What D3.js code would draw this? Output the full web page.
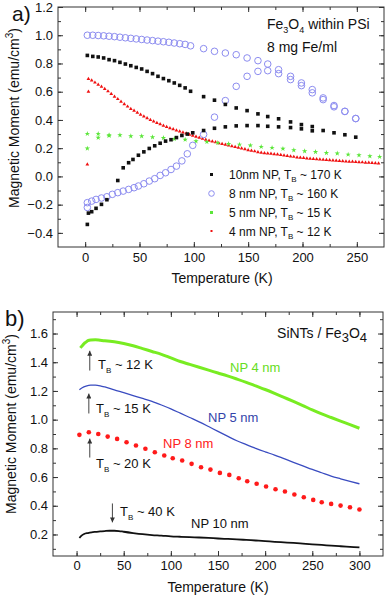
<!DOCTYPE html>
<html>
<head>
<meta charset="utf-8">
<script src="https://cdn.jsdelivr.net/npm/d3@7"></script>
<style>
  body { margin: 0; background: #fff; }
  svg { font-family: "Liberation Sans", Arial, sans-serif; }
  .tick line { stroke: #333; }
  .tick text { font-size: 13px; fill: #111; }
</style>
</head>
<body>
<div id="chart"></div>
<script>
// ---------- panel a: Fe3O4 within PSi ----------
const a10fcT = [2,7,12,17,22,27,32,37,42,47,52,57,62,67,72,77,82,87,92,97,109,119,129,139,149,159,168,178,189,199,209,219,229,239,249]
const a10fcV = [0.857,0.85,0.846,0.839,0.827,0.82,0.808,0.796,0.784,0.772,0.761,0.744,0.728,0.709,0.693,0.678,0.662,0.645,0.627,0.603,0.565,0.54,0.51,0.485,0.466,0.443,0.424,0.408,0.386,0.367,0.353,0.325,0.309,0.295,0.278]
const a10zfcT = [2,3,6,10,15,20,30,35,40,44,49,54,59,64,69,74,79,84,89,94,99,109,119,129,139,149,159,168,178,189,199,209]
const a10zfcV = [-0.34,-0.26,-0.25,-0.226,-0.198,-0.165,-0.029,0.061,0.097,0.12,0.15,0.174,0.198,0.217,0.235,0.25,0.26,0.275,0.29,0.30,0.309,0.325,0.341,0.351,0.358,0.36,0.36,0.355,0.351,0.346,0.337,0.323]

const a8fcT = [2,7,12,17,22,27,32,37,42,47,52,57,62,67,72,77,82,87,92,97,109,119,129,139,149,159,168,178,189,199,209,219,229,239,249]
const a8fcV = [1.0,1.0,0.998,0.996,0.993,0.99,0.986,0.982,0.978,0.974,0.97,0.966,0.962,0.958,0.954,0.95,0.945,0.94,0.935,0.925,0.905,0.886,0.874,0.862,0.839,0.82,0.796,0.756,0.709,0.662,0.615,0.556,0.502,0.461,0.41]
const a8zfcT = [2,2,6,10,15,20,25,30,35,40,45,49,54,59,64,69,74,79,84,89,94,99,109,119,129,139,149,159,168,178,189,199,209,219,229,239,249]
const a8zfcV = [-0.186,-0.22,-0.175,-0.163,-0.153,-0.144,-0.127,-0.115,-0.104,-0.092,-0.08,-0.068,-0.052,-0.033,-0.016,0.007,0.026,0.049,0.073,0.11,0.16,0.22,0.297,0.42,0.537,0.638,0.709,0.744,0.749,0.728,0.686,0.643,0.592,0.544,0.493,0.46,0.41]

const a5fcT = [2,12,22,32,42,52,62,72,82,92,102,112,122,132,142,152,162,172,182,192,202,212,222,232,242,252,262,271]
const a5fcV = [0.302,0.302,0.292,0.292,0.285,0.285,0.278,0.273,0.266,0.261,0.25,0.245,0.238,0.231,0.226,0.219,0.21,0.203,0.196,0.186,0.179,0.174,0.167,0.163,0.155,0.15,0.143,0.139]
const a5zfcT = [2,12,22]
const a5zfcV = [0.198,0.275,0.288]

const a4fcT = [3,6,9,12,15,18,21,24,27,30,33,36,39,42,45,48,51,54,57,60,63,66,69,72,75,78,81,84,87,90,93,96,99,102,105,108,111,114,117,120,123,126,129,132,135,138,141,144,147,150,153,156,159,162,165,168,171,174,177,180,183,186,189,192,195,198,201,204,207,210,213,216,219,222,225,228,231,234,237,240,243,246,249,252,255,258,261,264,267,270]
const a4fcV = [0.69,0.68,0.665,0.65,0.635,0.62,0.603,0.585,0.565,0.548,0.53,0.512,0.495,0.478,0.465,0.452,0.438,0.425,0.413,0.401,0.39,0.379,0.37,0.36,0.351,0.342,0.334,0.326,0.318,0.311,0.304,0.296,0.289,0.281,0.274,0.267,0.26,0.254,0.248,0.242,0.236,0.231,0.225,0.219,0.214,0.209,0.204,0.198,0.193,0.186,0.182,0.178,0.172,0.168,0.165,0.163,0.161,0.158,0.156,0.153,0.149,0.146,0.142,0.139,0.135,0.133,0.131,0.128,0.126,0.124,0.122,0.12,0.118,0.117,0.115,0.113,0.111,0.109,0.108,0.107,0.105,0.104,0.103,0.101,0.1,0.098,0.097,0.095,0.094,0.092]
const a4zfcT = [2,3]
const a4zfcV = [0.085,0.60]

const aXTicks = [0,50,100,150,200,250]
const aYTicks = [-0.4,-0.2,0.0,0.2,0.4,0.6,0.8,1.0,1.2]
const aLegend = ['10nm NP, T|B| ~ 170 K', '8 nm NP, T|B| ~ 160 K', '5 nm NP, T|B| ~ 15 K', '4 nm NP, T|B| ~ 12 K']

// ---------- panel b: SiNTs / Fe3O4 ----------
const b4T = [4,6,8,10,12,15,20,25,30,40,50,60,70,80,90,100,110,120,130,140,150,160,170,180,190,200,210,220,230,240,250,260,270,280,290,300]
const b4V = [1.50,1.515,1.53,1.54,1.55,1.555,1.556,1.553,1.55,1.542,1.53,1.515,1.495,1.475,1.455,1.43,1.405,1.385,1.365,1.345,1.325,1.305,1.283,1.26,1.235,1.21,1.183,1.155,1.127,1.098,1.068,1.04,1.015,0.99,0.965,0.94]
const b5T = [3,6,10,15,20,25,30,40,50,60,70,80,90,100,110,120,130,140,150,160,170,180,190,200,210,220,230,240,250,260,270,280,290,300]
const b5V = [1.208,1.222,1.233,1.24,1.24,1.236,1.228,1.207,1.188,1.168,1.148,1.127,1.102,1.075,1.045,1.015,0.985,0.952,0.918,0.885,0.853,0.826,0.80,0.776,0.753,0.728,0.703,0.678,0.653,0.63,0.607,0.588,0.57,0.553]
const b8T = [3,13,23,33,43,53,63,73,83,93,102,112,122,132,142,152,162,172,181,191,201,211,221,231,241,251,260,270,280,290,300]
const b8V = [0.894,0.912,0.90,0.882,0.866,0.843,0.82,0.797,0.773,0.75,0.731,0.715,0.692,0.668,0.652,0.629,0.615,0.592,0.571,0.553,0.534,0.515,0.499,0.478,0.459,0.441,0.424,0.413,0.401,0.39,0.374]
const b10T = [3,5,8,12,16,20,25,30,35,40,45,50,60,70,80,90,100,110,120,130,140,150,160,170,180,190,200,210,220,230,240,250,260,270,280,290,300]
const b10V = [0.175,0.19,0.203,0.21,0.215,0.218,0.221,0.224,0.226,0.226,0.224,0.219,0.21,0.202,0.196,0.192,0.187,0.184,0.181,0.179,0.176,0.172,0.169,0.166,0.162,0.158,0.154,0.149,0.145,0.141,0.136,0.131,0.127,0.122,0.118,0.114,0.11]

const bXTicks = [0,50,100,150,200,250,300]
const bYTicks = [0.2,0.4,0.6,0.8,1.0,1.2,1.4,1.6]
// blocking temperature arrows: T position, start and end value
const bArrows = [
  {t: 14, from: 1.342, to: 1.48, label: 12},
  {t: 13, from: 1.043, to: 1.182, label: 15},
  {t: 14, from: 0.736, to: 0.868, label: 20},
  {t: 38, from: 0.416, to: 0.284, label: 40}
]

const width = 387, height = 598
const svg = d3.select('#chart').append('svg')
  .attr('width', width)
  .attr('height', height)

const zip = (ts, vs) => ts.map((t, i) => ({t: t, v: vs[i]}))

// frame with inward ticks on all four sides
function drawFrame(x, y, xTicks, yTicks, xStep, yStep, xPad, yPad) {
  const [x0, x1] = x.range()
  const [y0, y1] = y.range()
  const xd = x.domain(), yd = y.domain()
  const xMinor = d3.range(Math.ceil(xd[0] / xStep) * xStep, xd[1] + 1e-6, xStep).filter(v => v > xd[0] && v < xd[1])
  const yMinor = d3.range(Math.ceil(yd[0] / yStep - 1e-6) * yStep, yd[1] + 1e-6, yStep).filter(v => v > yd[0] + 1e-6 && v < yd[1] - 1e-6)
  const g = svg.append('g')

  g.append('g').attr('transform', 'translate(0,' + y0 + ')')
    .call(d3.axisBottom(x).tickValues(xMinor).tickSize(-3).tickFormat(''))
  g.append('g').attr('transform', 'translate(0,' + y0 + ')')
    .call(d3.axisBottom(x).tickValues(xTicks).tickSize(-5).tickPadding(xPad).tickFormat(d3.format('d')))
  g.append('g').attr('transform', 'translate(0,' + y1 + ')')
    .call(d3.axisTop(x).tickValues(xMinor).tickSize(-3).tickFormat(''))
  g.append('g').attr('transform', 'translate(0,' + y1 + ')')
    .call(d3.axisTop(x).tickValues(xTicks).tickSize(-5).tickFormat(''))

  g.append('g').attr('transform', 'translate(' + x0 + ',0)')
    .call(d3.axisLeft(y).tickValues(yMinor).tickSize(-3).tickFormat(''))
  g.append('g').attr('transform', 'translate(' + x0 + ',0)')
    .call(d3.axisLeft(y).tickValues(yTicks).tickSize(-5).tickPadding(yPad).tickFormat(d3.format('.1f')))
  g.append('g').attr('transform', 'translate(' + x1 + ',0)')
    .call(d3.axisRight(y).tickValues(yMinor).tickSize(-3).tickFormat(''))
  g.append('g').attr('transform', 'translate(' + x1 + ',0)')
    .call(d3.axisRight(y).tickValues(yTicks).tickSize(-5).tickFormat(''))

  g.selectAll('.domain').remove()
  g.selectAll('.tick text').attr('font-family', null).attr('font-size', null)
  g.append('rect')
    .attr('x', x0).attr('y', y1)
    .attr('width', x1 - x0).attr('height', y0 - y1)
    .attr('fill', 'none').attr('stroke', '#333').attr('stroke-width', 1)
}

function yTitle(cx, cy) {
  const t = svg.append('text')
    .attr('transform', 'translate(' + cx + ',' + cy + ') rotate(-90)')
    .attr('text-anchor', 'middle')
    .attr('font-size', 14).attr('fill', '#111')
  t.append('tspan').text('Magnetic Moment (emu/cm')
  t.append('tspan').attr('font-size', 10).attr('dy', -6).text('3')
  t.append('tspan').attr('dy', 6).text(')')
}

function xTitle(cx, by) {
  svg.append('text').attr('x', cx).attr('y', by)
    .attr('text-anchor', 'middle').attr('font-size', 14).attr('fill', '#111')
    .text('Temperature (K)')
}

// text with "|sub|" markers for subscripts
function subText(g, x, y, str, size, subSize, subDy, color) {
  const t = g.append('text').attr('x', x).attr('y', y)
    .attr('font-size', size).attr('fill', color || '#111')
  str.split('|').forEach((part, i) => {
    if (!part) return
    if (i % 2 === 1) {
      t.append('tspan').attr('font-size', subSize).attr('dy', subDy).text(part)
    } else {
      t.append('tspan').attr('dy', i > 0 ? -subDy : 0).text(part)
    }
  })
  return t
}

// ======================= panel a =======================
const xa = d3.scaleLinear().domain([-25, 275]).range([58, 384])
const ya = d3.scaleLinear().domain([-0.5, 1.2]).range([247, 7])

drawFrame(xa, ya, aXTicks, aYTicks, 25, 0.1, 6, 5)

const ga = svg.append('g')
const sq = d3.symbol().type(d3.symbolSquare).size(13)
const star = d3.symbol().type(d3.symbolStar).size(9)
const tri = d3.symbol().type(d3.symbolTriangle).size(6)

// 4 nm (red)
ga.append('g').selectAll('path')
  .data(zip(a4fcT, a4fcV).concat(zip(a4zfcT, a4zfcV)))
  .join('path')
  .attr('d', tri)
  .attr('transform', d => 'translate(' + xa(d.t) + ',' + ya(d.v) + ')')
  .attr('fill', '#f01010')

// 5 nm (green stars)
ga.append('g').selectAll('path')
  .data(zip(a5fcT, a5fcV).concat(zip(a5zfcT, a5zfcV)))
  .join('path')
  .attr('d', star)
  .attr('transform', d => 'translate(' + xa(d.t) + ',' + ya(d.v) + ')')
  .attr('fill', '#5ce63a')

// 8 nm (open blue circles)
ga.append('g').selectAll('circle')
  .data(zip(a8fcT, a8fcV).concat(zip(a8zfcT, a8zfcV)))
  .join('circle')
  .attr('cx', d => xa(d.t)).attr('cy', d => ya(d.v))
  .attr('r', 3.3)
  .attr('fill', 'none').attr('stroke', '#8c8cf0').attr('stroke-width', 1)

// 10 nm (black squares)
ga.append('g').selectAll('path')
  .data(zip(a10fcT, a10fcV).concat(zip(a10zfcT, a10zfcV)))
  .join('path')
  .attr('d', sq)
  .attr('transform', d => 'translate(' + xa(d.t) + ',' + ya(d.v) + ')')
  .attr('fill', '#111')

// legend
const leg = svg.append('g')
const legY = [174.5, 193.5, 212.5, 231]
leg.append('rect').attr('x', 210).attr('y', legY[0] - 1.5).attr('width', 3).attr('height', 3).attr('fill', '#111')
leg.append('circle').attr('cx', 211.5).attr('cy', legY[1]).attr('r', 2.8).attr('fill', 'none').attr('stroke', '#8c8cf0')
leg.append('rect').attr('x', 210).attr('y', legY[2] - 1.5).attr('width', 3).attr('height', 3).attr('fill', '#5ce63a')
leg.append('rect').attr('x', 210.5).attr('y', legY[3] - 1).attr('width', 2).attr('height', 2).attr('fill', '#f01010')
aLegend.forEach((s, i) => subText(leg, 229, legY[i] + 4.5, s, 12, 8, 3))

subText(svg, 267, 29, 'Fe|3|O|4| within PSi', 14, 9, 4)
svg.append('text').attr('x', 267).attr('y', 52).attr('font-size', 14).attr('fill', '#111').text('8 mg Fe/ml')

yTitle(19, 118)
xTitle(222, 283)
svg.append('text').attr('x', 12).attr('y', 21).attr('font-size', 21).attr('fill', '#111').text('a)')

// ======================= panel b =======================
const xb = d3.scaleLinear().domain([-25, 325]).range([53, 383])
const yb = d3.scaleLinear().domain([0.05, 1.75]).range([556, 312])

drawFrame(xb, yb, bXTicks, bYTicks, 25, 0.1, 5, 5)

const line = d3.line().x(d => xb(d.t)).y(d => yb(d.v)).curve(d3.curveMonotoneX)
const gb = svg.append('g')

gb.append('path').datum(zip(b4T, b4V)).attr('d', line)
  .attr('fill', 'none').attr('stroke', '#78ec22').attr('stroke-width', 3)
gb.append('path').datum(zip(b5T, b5V)).attr('d', line)
  .attr('fill', 'none').attr('stroke', '#3a4cc0').attr('stroke-width', 1.3)
gb.append('g').selectAll('circle')
  .data(zip(b8T, b8V))
  .join('circle')
  .attr('cx', d => xb(d.t)).attr('cy', d => yb(d.v))
  .attr('r', 2.3).attr('fill', '#ff1a1a')
gb.append('path').datum(zip(b10T, b10V)).attr('d', line)
  .attr('fill', 'none').attr('stroke', '#111').attr('stroke-width', 1.8)

// arrows
svg.append('defs').append('marker')
  .attr('id', 'head')
  .attr('viewBox', '0 -5 10 10')
  .attr('refX', 10).attr('refY', 0)
  .attr('markerWidth', 5).attr('markerHeight', 5)
  .attr('markerUnits', 'userSpaceOnUse')
  .attr('orient', 'auto')
  .append('path').attr('d', 'M0,-5L10,0L0,5Z').attr('fill', '#333')

bArrows.forEach(a => {
  svg.append('line')
    .attr('x1', xb(a.t)).attr('x2', xb(a.t))
    .attr('y1', yb(a.from)).attr('y2', yb(a.to))
    .attr('stroke', '#444').attr('stroke-width', 1)
    .attr('marker-end', 'url(#head)')
})
subText(svg, 98, 369, 'T|B| ~ 12 K', 13, 8, 4)
subText(svg, 96, 413, 'T|B| ~ 15 K', 13, 8, 4)
subText(svg, 96, 468, 'T|B| ~ 20 K', 13, 8, 4)
subText(svg, 120, 516, 'T|B| ~ 40 K', 13, 8, 4)

svg.append('text').attr('x', 230).attr('y', 372).attr('font-size', 13).attr('fill', '#66dd22').text('NP 4 nm')
svg.append('text').attr('x', 208).attr('y', 422).attr('font-size', 13).attr('fill', '#3344aa').text('NP 5 nm')
svg.append('text').attr('x', 163).attr('y', 448).attr('font-size', 13).attr('fill', '#ff2020').text('NP 8 nm')
svg.append('text').attr('x', 191).attr('y', 528).attr('font-size', 13).attr('fill', '#111').text('NP 10 nm')

const sin = subText(svg, 367, 338, 'SiNTs / Fe|3|O|4|', 14, 13, 4)
sin.attr('text-anchor', 'end')

yTitle(16, 424)
xTitle(218, 592)
svg.append('text').attr('x', 5).attr('y', 326).attr('font-size', 22).attr('fill', '#111').text('b)')
</script>
</body>
</html>
